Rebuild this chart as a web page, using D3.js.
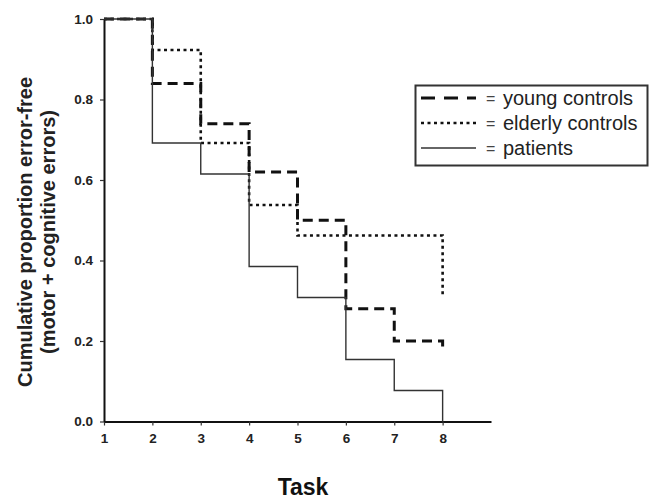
<!DOCTYPE html>
<html lang="en">
<head>
<meta charset="UTF-8">
<title>Cumulative proportion error-free</title>
<script src="https://cdn.jsdelivr.net/npm/d3@7"></script>
<style>
  body { margin: 0; background: #fff; }
  svg { font-family: Arial, "Liberation Sans", sans-serif; }
</style>
</head>
<body>
<div id="grafica"></div>
<script>
// data
tasks    = [1, 2, 3, 4, 5, 6, 7, 8]
young    = [1.0, 0.84, 0.74, 0.62, 0.50, 0.28, 0.20, 0.18]
elderly  = [1.0, 0.923, 0.692, 0.538, 0.462, 0.462, 0.462, 0.308]
patients = [1.0, 0.692, 0.615, 0.385, 0.308, 0.154, 0.077, 0.0]
groups   = ['young controls', 'elderly controls', 'patients']
yTicks   = [0, 0.2, 0.4, 0.6, 0.8, 1.0]

ancho_total = 651
alto_total = 499

svg = d3.select('#grafica')
    .append('svg')
    .attr('width', ancho_total)
    .attr('height', alto_total)

x = d3.scaleLinear().domain([1, 9]).range([104, 491])
y = d3.scaleLinear().domain([0, 1]).range([421.5, 19])

estilos = {
  'young controls':   {dash: '10,6', width: 3, color: '#111'},
  'elderly controls': {dash: '3,3.5', width: 2.6, color: '#111'},
  'patients':         {dash: null, width: 1.4, color: '#333'}
}
series = [
  {name: 'young controls', values: young},
  {name: 'elderly controls', values: elderly},
  {name: 'patients', values: patients}
]

// axes
xAxis = svg.append('g')
    .attr('transform', 'translate(0,' + y(0) + ')')
    .call(d3.axisBottom(x).tickValues(tasks).tickSize(4).tickSizeOuter(0).tickFormat(d3.format('d')))
yAxis = svg.append('g')
    .attr('transform', 'translate(' + x(1) + ',0)')
    .call(d3.axisLeft(y).tickValues(yTicks).tickSize(4).tickSizeOuter(0).tickFormat(d3.format('.1f')))

svg.selectAll('.domain').attr('stroke', '#111').attr('stroke-width', 2)
svg.selectAll('.tick line').attr('stroke', '#333').attr('stroke-width', 1.2)
svg.selectAll('.tick text')
    .attr('font-size', 13.5).attr('font-weight', 'bold').attr('fill', '#222')
    .attr('font-family', 'Arial, "Liberation Sans", sans-serif')
xAxis.selectAll('.tick text').attr('dy', '1.05em')
yAxis.selectAll('.tick text').attr('dx', '-0.3em')

// step lines
linea = d3.line()
    .x((d, i) => x(tasks[i]))
    .y(d => y(d))
    .curve(d3.curveStepAfter)

svg.selectAll('.serie')
    .data(series)
    .enter()
    .append('path')
    .attr('class', 'serie')
    .attr('fill', 'none')
    .attr('stroke', d => estilos[d.name].color)
    .attr('stroke-width', d => estilos[d.name].width)
    .attr('stroke-dasharray', d => estilos[d.name].dash)
    .attr('d', d => linea(d.values))

// axis titles
svg.append('text')
    .attr('transform', 'translate(32,232) rotate(-90)')
    .attr('text-anchor', 'middle')
    .attr('font-size', 20).attr('font-weight', 'bold').attr('fill', '#222')
    .text('Cumulative proportion error-free')
svg.append('text')
    .attr('transform', 'translate(55,232) rotate(-90)')
    .attr('text-anchor', 'middle')
    .attr('font-size', 20).attr('font-weight', 'bold').attr('fill', '#222')
    .text('(motor + cognitive errors)')
svg.append('text')
    .attr('x', 303).attr('y', 495)
    .attr('text-anchor', 'middle')
    .attr('font-size', 23).attr('font-weight', 'bold').attr('fill', '#111')
    .text('Task')

// legend
leg = svg.append('g')
leg.append('rect')
    .attr('x', 415.5).attr('y', 85.5).attr('width', 232).attr('height', 80)
    .attr('fill', '#fff').attr('stroke', '#333').attr('stroke-width', 2)

items = leg.selectAll('.item')
    .data(groups)
    .enter()
    .append('g')
    .attr('transform', (d, i) => 'translate(0,' + (98 + i * 25) + ')')
items.append('line')
    .attr('x1', 421).attr('x2', 476)
    .attr('stroke', d => estilos[d].color)
    .attr('stroke-width', d => estilos[d].width)
    .attr('stroke-dasharray', d => d == 'young controls' ? '14,9' : estilos[d].dash)
items.append('text')
    .attr('x', 486).attr('dy', '0.35em')
    .attr('font-size', 16).attr('fill', '#444')
    .text('=')
items.append('text')
    .attr('x', 503).attr('dy', '0.35em')
    .attr('font-size', 20).attr('fill', '#222')
    .text(d => d)
</script>
</body>
</html>
